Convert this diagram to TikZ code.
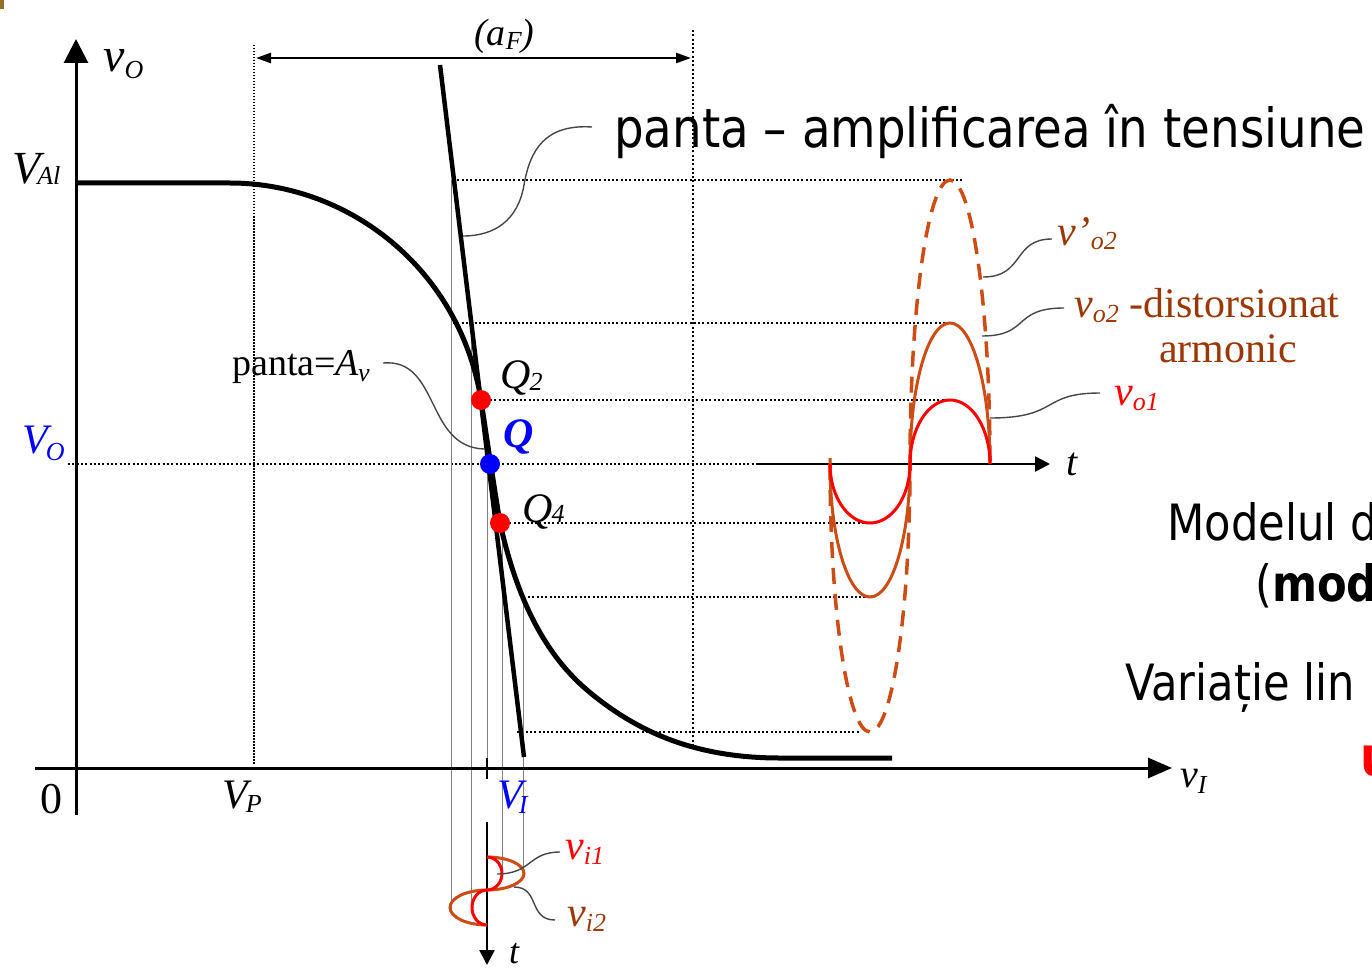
\documentclass[tikz,border=0pt]{standalone}
\usepackage{fontspec}
\setmainfont{Liberation Serif}
\newfontfamily\tah[FakeStretch=0.865]{DejaVu Sans}
\usetikzlibrary{arrows.meta}
\definecolor{wbrown}{RGB}{204,76,20}
\definecolor{tbrown}{RGB}{155,55,5}
\definecolor{myred}{RGB}{255,0,0}
\definecolor{myblue}{RGB}{0,0,255}
\definecolor{callout}{RGB}{70,70,70}
\definecolor{projc}{RGB}{130,130,130}
\definecolor{corner}{RGB}{150,110,40}
\newcommand\fs[1]{\fontsize{#1}{#1}\selectfont}
\newcommand\sbs[2][-6pt]{\raisebox{#1}{\fs{26}#2}}
\begin{document}
\begin{tikzpicture}[x=1pt,y=-1pt,
  lbl/.style={inner sep=0pt, anchor=base west, font=\fs{42}\itshape},
  big/.style={inner sep=0pt, anchor=base west, font=\tah\fs{50}},
  axisline/.style={line width=3pt, -{Triangle[length=24pt,width=24pt]}},
  taxis/.style={line width=2.5pt, -{Triangle[length=15pt,width=15pt]}},
  dots/.style={line width=2pt, dash pattern=on 2pt off 2.3pt},
  thindots/.style={line width=1.3pt, dash pattern=on 1.5pt off 1.5pt},
  projline/.style={line width=0.9pt, draw=projc},
  co/.style={line width=1.4pt, draw=callout},
  wave/.style={line width=3pt},
  qdot/.style={circle, inner sep=0pt, minimum size=20pt}]
\useasboundingbox (0,0) rectangle (1372,968);
\fill[corner] (0,0) rectangle (4,9);

% coordinates
\coordinate (vtop) at (76,39);
\coordinate (vbot) at (76,815);
\coordinate (hl) at (35,768);
\coordinate (hr) at (1172,768);

% dotted guide lines
\draw[thindots] (254,45) -- (254,765);
\draw[dots] (693,30) -- (693,748);
\draw[dots] (453,180) -- (962,180);
\draw[dots] (453,323) -- (950,323);
\draw[dots] (490,400) -- (950,400);
\draw[dots] (68,464) -- (760,464);
\draw[dots] (505,523) -- (870,523);
\draw[dots] (528,597) -- (865,597);
\draw[dots] (517,732) -- (860,732);

% projection lines
\draw[projline] (451,180) -- (451,908);
\draw[projline] (471,323) -- (471,907);
\draw[projline] (487,464) -- (487,768);
\draw[projline] (502,523) -- (502,873);
\draw[projline] (523,597) -- (523,873);
\draw[line width=2pt] (487,758) -- (487,779);

% axes
\draw[axisline] (vbot) -- (vtop);
\draw[line width=3pt, -{Triangle[length=24pt,width=20pt]}] (hl) -- (hr);

% (a_F) arrow
\coordinate (afl) at (256,58);
\coordinate (afr) at (691,58);
\draw[line width=2.5pt, {Triangle[length=15pt,width=10pt]}-{Triangle[length=15pt,width=10pt]}] (afl) -- (afr);

% transfer curve
\draw[line width=5pt, line join=round] (76,183) -- (230,183)
  .. controls (350,183) and (460,270) .. (481,400)
  .. controls (487,440) and (493,480) .. (500,523)
  .. controls (515,590) and (540,650) .. (587,690)
  .. controls (640,735) and (700,758) .. (780,758) -- (892,758);

% tangent line
\coordinate (tgt) at (440,65);
\coordinate (tgb) at (524,757);
\draw[line width=4.5pt] (tgt) -- (tgb);

% operating points
\node[qdot, fill=myred] (q2) at (481,400) {};
\node[qdot, fill=myblue] (q) at (490,464) {};
\node[qdot, fill=myred] (q4) at (500,523) {};

% output time axis and waves
\coordinate (tol) at (758,464);
\coordinate (tor) at (1050,464);
\draw[taxis] (tol) -- (tor);
\draw[wave, wbrown, line width=3.5pt, dash pattern=on 16pt off 10pt] (830,464) arc[start angle=180, end angle=360, x radius=40pt, y radius=268pt] arc[start angle=180, end angle=0, x radius=40pt, y radius=284pt];
\draw[wave, wbrown] (830,458) -- (830,464) arc[start angle=180, end angle=360, x radius=40pt, y radius=133pt] arc[start angle=180, end angle=0, x radius=40pt, y radius=141pt];
\draw[wave, myred] (830,464) arc[start angle=180, end angle=360, x radius=40pt, y radius=59pt] arc[start angle=180, end angle=0, x radius=40pt, y radius=64pt];

% input time axis and waves
\coordinate (tit) at (487,822);
\coordinate (tib) at (487,965);
\draw[taxis] (tit) -- (tib);
\draw[wave, wbrown] (487,857) arc[start angle=90, end angle=-90, x radius=37pt, y radius=16.5pt] arc[start angle=90, end angle=270, x radius=37pt, y radius=17.5pt];
\draw[wave, myred] (487,857) arc[start angle=90, end angle=-90, x radius=15pt, y radius=16.5pt] arc[start angle=90, end angle=270, x radius=15pt, y radius=17.5pt];

% labels
\node[lbl, font=\fs{48}\itshape] (lvo) at (103,72) {v\sbs[-7pt]{O}};
\node[lbl, font=\fs{46}\itshape] (lval) at (12,184) {V\kern-3pt\sbs[-1pt]{Al}};
\node[lbl, text=myblue] (lvob) at (22,453) {V\kern-2pt\sbs[-7pt]{O}};
\node[lbl, font=\fs{44}] (lzero) at (40,813) {0};
\node[lbl] (lvp) at (222,808) {V\kern-2pt\sbs[-4pt]{P}};
\node[lbl, text=myblue] (lvib) at (497,808) {V\kern-4pt\sbs[-5pt]{I}};
\node[lbl, font=\fs{40}\itshape] (lvi) at (1180,787) {v\sbs[-6pt]{I}};
\node[lbl] (lq2) at (500,388) {Q\kern-1pt\sbs[-2pt]{2}};
\node[lbl, font=\fs{42}\bfseries\itshape, text=myblue] (lq) at (503,447) {Q};
\node[lbl] (lq4) at (522,522) {Q\kern-1pt\sbs[0pt]{4}};
\node[lbl, font=\fs{38}\itshape] (laf) at (474,46) {(a\sbs[-4pt]{F})};
\node[lbl, font=\fs{38}] (lpanta) at (232,375) {panta=\textit{A\kern-1pt\sbs[-6pt]{v}}};
\node[lbl, font=\fs{40}\itshape] (lto) at (1066,475) {t};
\node[lbl, font=\fs{36}\itshape] (lti) at (509,963) {t};
\node[lbl, text=tbrown] (lvo2p) at (1057,245) {v\kern1pt’\sbs[-5pt]{o2}};
\node[lbl, text=tbrown] (lvo2) at (1074,317) {v\sbs[-5pt]{o2}\upshape\ -distorsionat};
\node[lbl, font=\fs{42}, text=tbrown] (larm) at (1159,362) {armonic};
\node[lbl, text=myred] (lvo1) at (1114,405) {v\sbs[-5pt]{o1}};
\node[lbl, text=myred] (lvi1) at (565,859) {v\sbs[-5pt]{i1}};
\node[lbl, text=tbrown] (lvi2) at (567,926) {v\sbs[-5pt]{i2}};

% big sans text
\node[big, font=\tah\fs{54}] (tpanta) at (614,148) {panta – amplificarea în tensiune};
\node[big] (tmod) at (1167,540) {Modelul d};
\node[big] (tmod2) at (1255,601) {(\textbf{mod}};
\node[big] (tvar) at (1125,700) {Variație lin};
\node[big, font=\tah\fs{54}\bfseries, text=myred] (tred) at (1360,775) {u};

% callouts
\coordinate (c1a) at (592,127);
\coordinate (c1b) at (463,236);
\draw[co] (c1a) .. controls (545,124) and (530,150) .. (524,185) .. controls (518,220) and (495,236) .. (c1b);
\coordinate (c2a) at (383,363);
\coordinate (c2b) at (484,449);
\draw[co] (c2a) .. controls (440,358) and (425,447) .. (c2b);
\coordinate (c3a) at (1052,239);
\coordinate (c3b) at (983,277);
\draw[co] (c3a) .. controls (1012,239) and (1025,277) .. (c3b);
\coordinate (c4a) at (1064,308);
\coordinate (c4b) at (982,336);
\draw[co] (c4a) .. controls (1012,308) and (1030,336) .. (c4b);
\coordinate (c5a) at (1100,393);
\coordinate (c5b) at (990,418);
\draw[co] (c5a) .. controls (1040,393) and (1060,418) .. (c5b);
\coordinate (c6a) at (560,852);
\coordinate (c6b) at (497,874);
\draw[co] (c6a) .. controls (528,852) and (532,874) .. (c6b);
\coordinate (c7a) at (555,920);
\coordinate (c7b) at (514,887);
\draw[co] (c7a) .. controls (528,920) and (540,887) .. (c7b);
\end{tikzpicture}
\end{document}
